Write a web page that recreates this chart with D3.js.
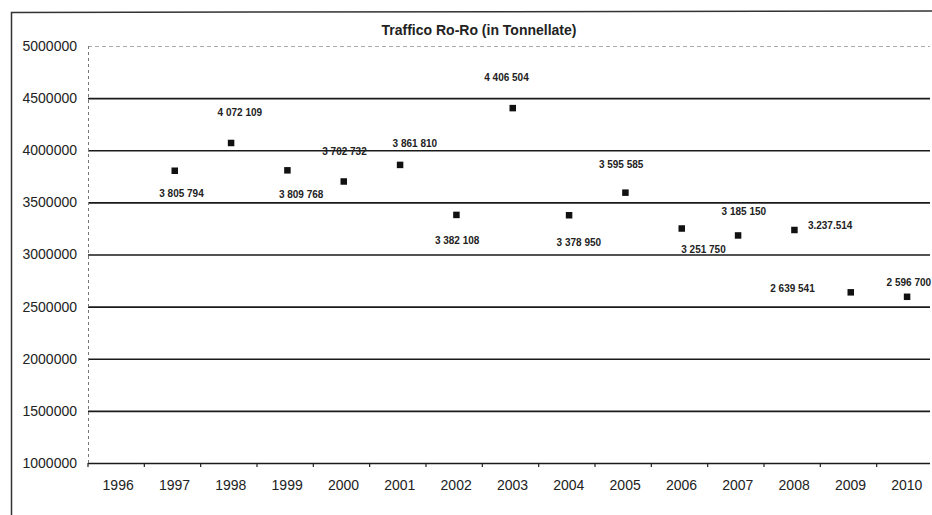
<!DOCTYPE html>
<html>
<head>
<meta charset="utf-8">
<script src="https://cdn.jsdelivr.net/npm/d3@7"></script>
<style>
    body { margin: 0; background: #fff; }
    svg { display: block; font-family: "Liberation Sans", Arial, sans-serif; }
    .tick text { fill: #222; }
</style>
</head>
<body>
<div id="graph-container"></div>
<script>
    // data
    const years = ['1996', '1997', '1998', '1999', '2000', '2001', '2002', '2003',
        '2004', '2005', '2006', '2007', '2008', '2009', '2010'];
    const tonnes = [null, 3805794, 4072109, 3809768, 3702732, 3861810, 3382108, 4406504,
        3378950, 3595585, 3251750, 3185150, 3237514, 2639541, 2596700];
    const labels = ['', '3 805 794', '4 072 109', '3 809 768', '3 702 732', '3 861 810', '3 382 108',
        '4 406 504', '3 378 950', '3 595 585', '3 251 750', '3 185 150', '3.237.514', '2 639 541', '2 596 700'];
    const yTicks = [1000000, 1500000, 2000000, 2500000, 3000000, 3500000, 4000000, 4500000, 5000000];

    // hand-placed data labels (offset from the marker, px)
    const labelDx = [0, 7, 9, 14, 1, 15, 1, -6, 10, -4, 22, 6, 36, -58, 2];
    const labelDy = [0, 23, -30, 24, -30, -21, 26, -30, 28, -28, 21, -24, -4, -4, -14];

    const width = 932;
    const height = 515;
    const margin = { top: 46, right: -3, bottom: 52, left: 90 };

    const svg = d3.select('#graph-container')
        .append('svg')
        .attr('width', width)
        .attr('height', height);

    // outer frame (only left + top visible in the scan)
    svg.append('path')
        .attr('d', `M11.5,${height} L11.5,12.5 L${width},11`)
        .attr('fill', 'none')
        .attr('stroke', '#333')
        .attr('stroke-width', 1.5);

    const xScale = d3.scaleBand()
        .domain(years)
        .range([margin.left, width - margin.right])
        .paddingInner(0)
        .paddingOuter(0);

    const yScale = d3.scaleLinear()
        .domain([1000000, 5000000])
        .range([height - margin.bottom, margin.top]);

    // y axis + grid
    const yAxis = d3.axisLeft(yScale)
        .tickValues(yTicks)
        .tickSizeInner(-(width - margin.left))
        .tickSizeOuter(0)
        .tickPadding(12)
        .tickFormat(d3.format('d'));

    const gy = svg.append('g')
        .attr('transform', `translate(${margin.left - 2},0)`)
        .call(yAxis);
    gy.select('.domain').remove();
    gy.selectAll('.tick line')
        .attr('stroke', (d) => (d === 5000000 ? '#aaa' : '#1a1a1a'))
        .attr('stroke-width', (d) => (d === 5000000 ? 1 : 1.6))
        .attr('stroke-dasharray', (d) => (d === 5000000 ? '4,3' : null));
    gy.selectAll('.tick text')
        .attr('font-size', 14)
        .attr('x', -11);

    // left axis line, dotted
    svg.append('line')
        .attr('x1', margin.left - 1.5)
        .attr('x2', margin.left - 1.5)
        .attr('y1', yScale(5000000))
        .attr('y2', yScale(1000000))
        .attr('stroke', '#777')
        .attr('stroke-dasharray', '3,3');

    // x axis labels
    const xAxis = d3.axisBottom(xScale)
        .tickSize(0)
        .tickPadding(17);

    const gx = svg.append('g')
        .attr('transform', `translate(0,${yScale(1000000)})`)
        .call(xAxis);
    gx.select('.domain').remove();
    gx.selectAll('.tick text').attr('font-size', 14);

    // x tick marks at category boundaries
    svg.append('g')
        .selectAll('line')
        .data(years)
        .join('line')
        .attr('x1', (d) => xScale(d) - 2)
        .attr('x2', (d) => xScale(d) - 2)
        .attr('y1', yScale(1000000))
        .attr('y2', yScale(1000000) + 4)
        .attr('stroke', '#222')
        .attr('stroke-width', 1.2);

    // title
    svg.append('text')
        .attr('x', 479)
        .attr('y', 35)
        .attr('text-anchor', 'middle')
        .attr('font-size', 14)
        .attr('font-weight', 'bold')
        .attr('fill', '#222')
        .text('Traffico Ro-Ro (in Tonnellate)');

    const points = years.map((year, index) => ({
        year,
        value: tonnes[index],
        label: labels[index],
        dx: labelDx[index],
        dy: labelDy[index],
    })).filter((d) => d.value !== null);

    const cx = (d) => xScale(d.year) + xScale.bandwidth() / 2;

    // markers
    svg.append('g')
        .selectAll('rect')
        .data(points)
        .join('rect')
        .attr('x', (d) => cx(d) - 3)
        .attr('y', (d) => yScale(d.value) - 3)
        .attr('width', 6.5)
        .attr('height', 6.5)
        .attr('fill', '#111');

    // data labels
    svg.append('g')
        .selectAll('text')
        .data(points)
        .join('text')
        .attr('x', (d) => cx(d) + d.dx)
        .attr('y', (d) => yScale(d.value) + d.dy)
        .attr('dy', '0.35em')
        .attr('text-anchor', 'middle')
        .attr('font-size', 10)
        .attr('font-weight', 'bold')
        .attr('fill', '#222')
        .text((d) => d.label);
</script>
</body>
</html>
